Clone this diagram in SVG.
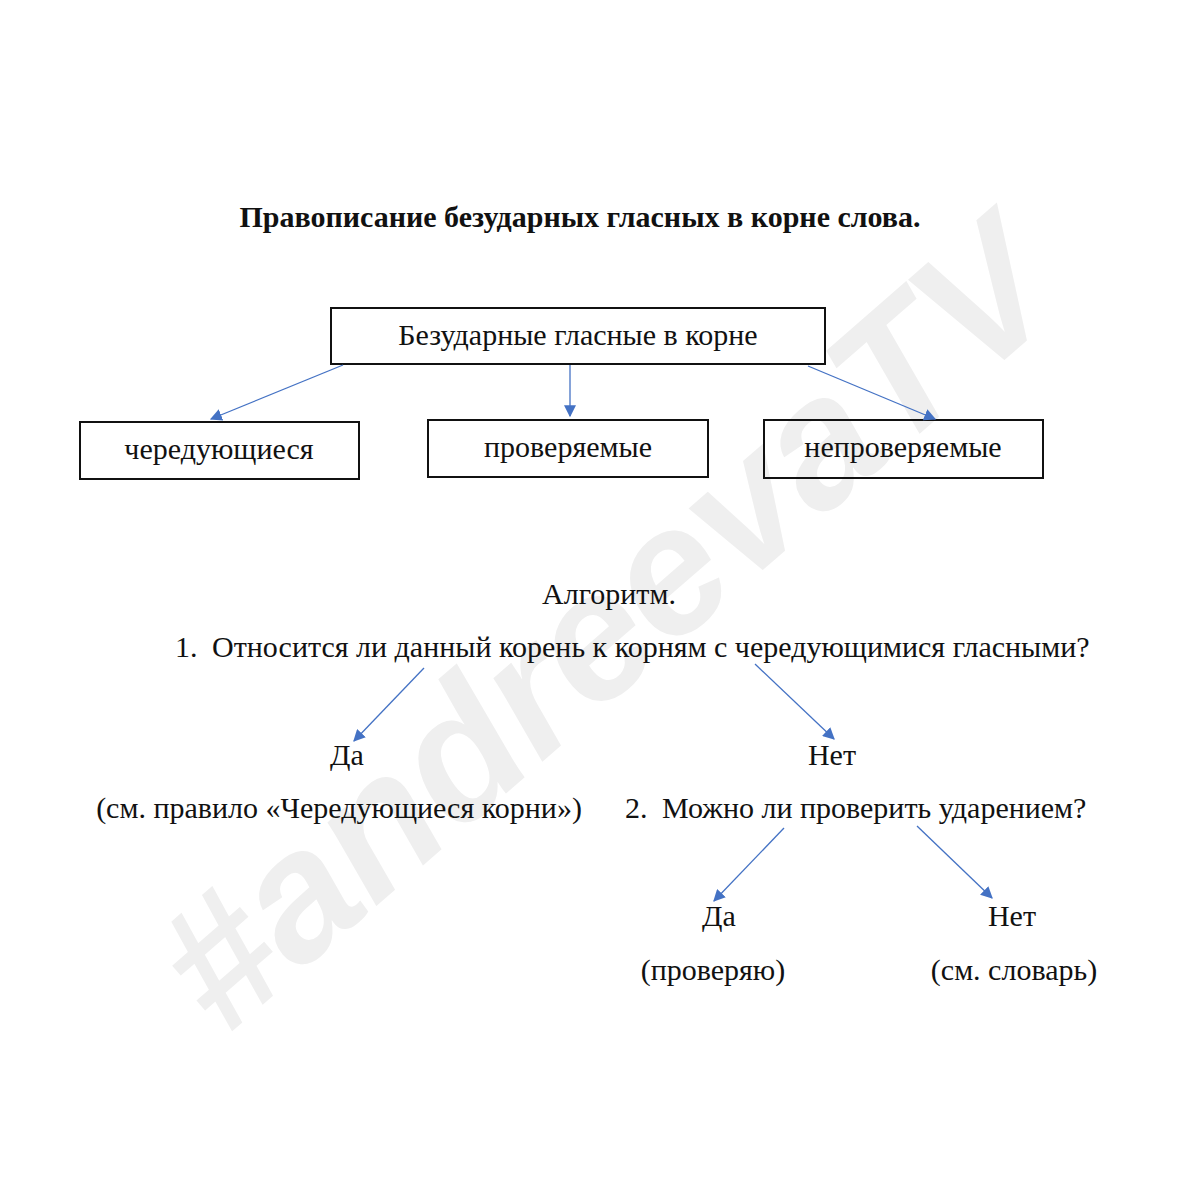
<svg xmlns="http://www.w3.org/2000/svg" width="1200" height="1200" viewBox="0 0 1200 1200">
<style>
.t{font-family:"Liberation Serif","Times New Roman",serif;font-size:30px;fill:#111}
.c{text-anchor:middle}
.box{fill:none;stroke:#111;stroke-width:2}
.ar{stroke:#4472C4;stroke-width:1.3;fill:none;marker-end:url(#ah)}
.wm{font-family:"Liberation Sans",Arial,sans-serif;font-weight:bold;font-style:italic;font-size:180px;fill:#efefef;text-anchor:middle}
</style>
<defs>
<marker id="ah" viewBox="0 0 10 10" refX="9" refY="5" markerWidth="12" markerHeight="12" markerUnits="userSpaceOnUse" orient="auto">
<path d="M0,0 L10,5 L0,10 z" fill="#4472C4"/>
</marker>
</defs>
<rect width="1200" height="1200" fill="#fff"/>
<text class="wm" transform="translate(605,625) rotate(-41)" dy="62">#andreevaTV</text>
<text class="t c" x="580" y="227" style="font-weight:bold">Правописание безударных гласных в корне слова.</text>
<g id="n-root"><rect class="box" x="331" y="308" width="494" height="56"/><text class="t c" x="578" y="345">Безударные гласные в корне</text></g>
<g id="n-cher"><rect class="box" x="80" y="422" width="279" height="57"/><text class="t c" x="219" y="459">чередующиеся</text></g>
<g id="n-prov"><rect class="box" x="428" y="420" width="280" height="57"/><text class="t c" x="568" y="457">проверяемые</text></g>
<g id="n-neprov"><rect class="box" x="764" y="420" width="279" height="58"/><text class="t c" x="903" y="457">непроверяемые</text></g>
<g id="n-alg"><text class="t c" x="609" y="604">Алгоритм.</text></g>
<g id="n-q1"><text class="t" x="175" y="657">1.</text><text class="t" x="212" y="657">Относится ли данный корень к корням с чередующимися гласными?</text></g>
<g id="n-da1"><text class="t c" x="347" y="765">Да</text><text class="t c" x="339" y="818">(см. правило «Чередующиеся корни»)</text></g>
<g id="n-net1"><text class="t c" x="832" y="765">Нет</text></g>
<g id="n-q2"><text class="t" x="625" y="818">2.</text><text class="t" x="662" y="818">Можно ли проверить ударением?</text></g>
<g id="n-da2"><text class="t c" x="719" y="926">Да</text><text class="t c" x="713" y="980">(проверяю)</text></g>
<g id="n-net2"><text class="t c" x="1012" y="926">Нет</text><text class="t c" x="1014" y="980">(см. словарь)</text></g>
<g id="connectors">
<line class="ar" x1="343" y1="365" x2="211" y2="419"/>
<line class="ar" x1="570" y1="365" x2="570" y2="416"/>
<line class="ar" x1="808" y1="366" x2="935" y2="419"/>
<line class="ar" x1="424" y1="668" x2="354" y2="741"/>
<line class="ar" x1="755" y1="664" x2="834" y2="739"/>
<line class="ar" x1="784" y1="828" x2="714" y2="901"/>
<line class="ar" x1="917" y1="826" x2="992" y2="898"/>
</g>
</svg>
